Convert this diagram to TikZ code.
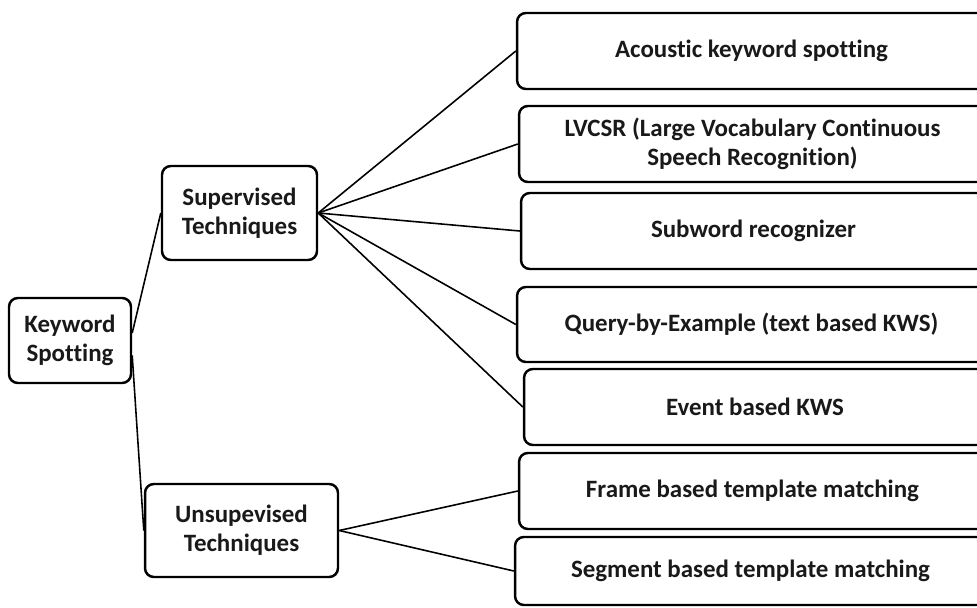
\documentclass[tikz,border=0pt]{standalone}
\usepackage{fontspec}
\setmainfont[Ligatures={NoCommon}]{Carlito}
\usepackage{tikz}
\usetikzlibrary{positioning}

\tikzset{
  box/.style={draw, line width=1.4pt, rounded corners=5pt, fill=white, align=center,
    inner sep=0pt, font=\bfseries\fontsize{14.2}{16.5}\selectfont, text=black!90},
  leaf/.style={box, minimum height=1.52cm},
  link/.style={line width=0.9pt}
}

\begin{document}
\begin{tikzpicture}[x=0.02cm, y=-0.02cm]
  \useasboundingbox (0,0) rectangle (977,608);

  % Root and the two families
  \node[box, minimum width=2.44cm, minimum height=1.7cm] (kws) at (70, 340.5) {Keyword\\Spotting};
  \node[box, minimum width=3.1cm, minimum height=1.88cm] (sup) at (239.5, 213) {Supervised\\Techniques};
  \node[box, minimum width=3.86cm, minimum height=1.86cm] (unsup) at (241.5, 530.5) {Unsupevised\\Techniques};

  % Supervised techniques
  \node[leaf, minimum width=9.38cm] (acou) at (751.5, 51) {Acoustic keyword spotting};
  \node[leaf, minimum width=9.34cm] (lvcsr) at (752.5, 144) {LVCSR (Large Vocabulary Continuous\\Speech Recognition)};
  \node[leaf, minimum width=9.3cm] (subw) at (753.5, 231) {Subword recognizer};
  \node[leaf, minimum width=9.38cm, minimum height=1.5cm] (qbe) at (751.5, 324.5) {Query-by-Example (text based KWS)};
  \node[leaf, minimum width=9.24cm] (event) at (755, 407) {Event based KWS};

  % Unsupervised techniques
  \node[leaf, minimum width=9.34cm] (frame) at (752.5, 491) {Frame based template matching};
  \node[leaf, minimum width=9.42cm, minimum height=1.36cm] (segm) at (750.5, 571) {Segment based template matching};

  % Connectors
  \draw[link] ([yshift=0.15cm]kws.east) -- (sup.west);
  \draw[link] ([yshift=-0.3cm]kws.east) -- (unsup.west);
  \foreach \t in {acou, lvcsr, subw, qbe, event}
    \draw[link] (sup.east) -- (\t.west);
  \foreach \t in {frame, segm}
    \draw[link] (unsup.east) -- (\t.west);
\end{tikzpicture}
\end{document}
